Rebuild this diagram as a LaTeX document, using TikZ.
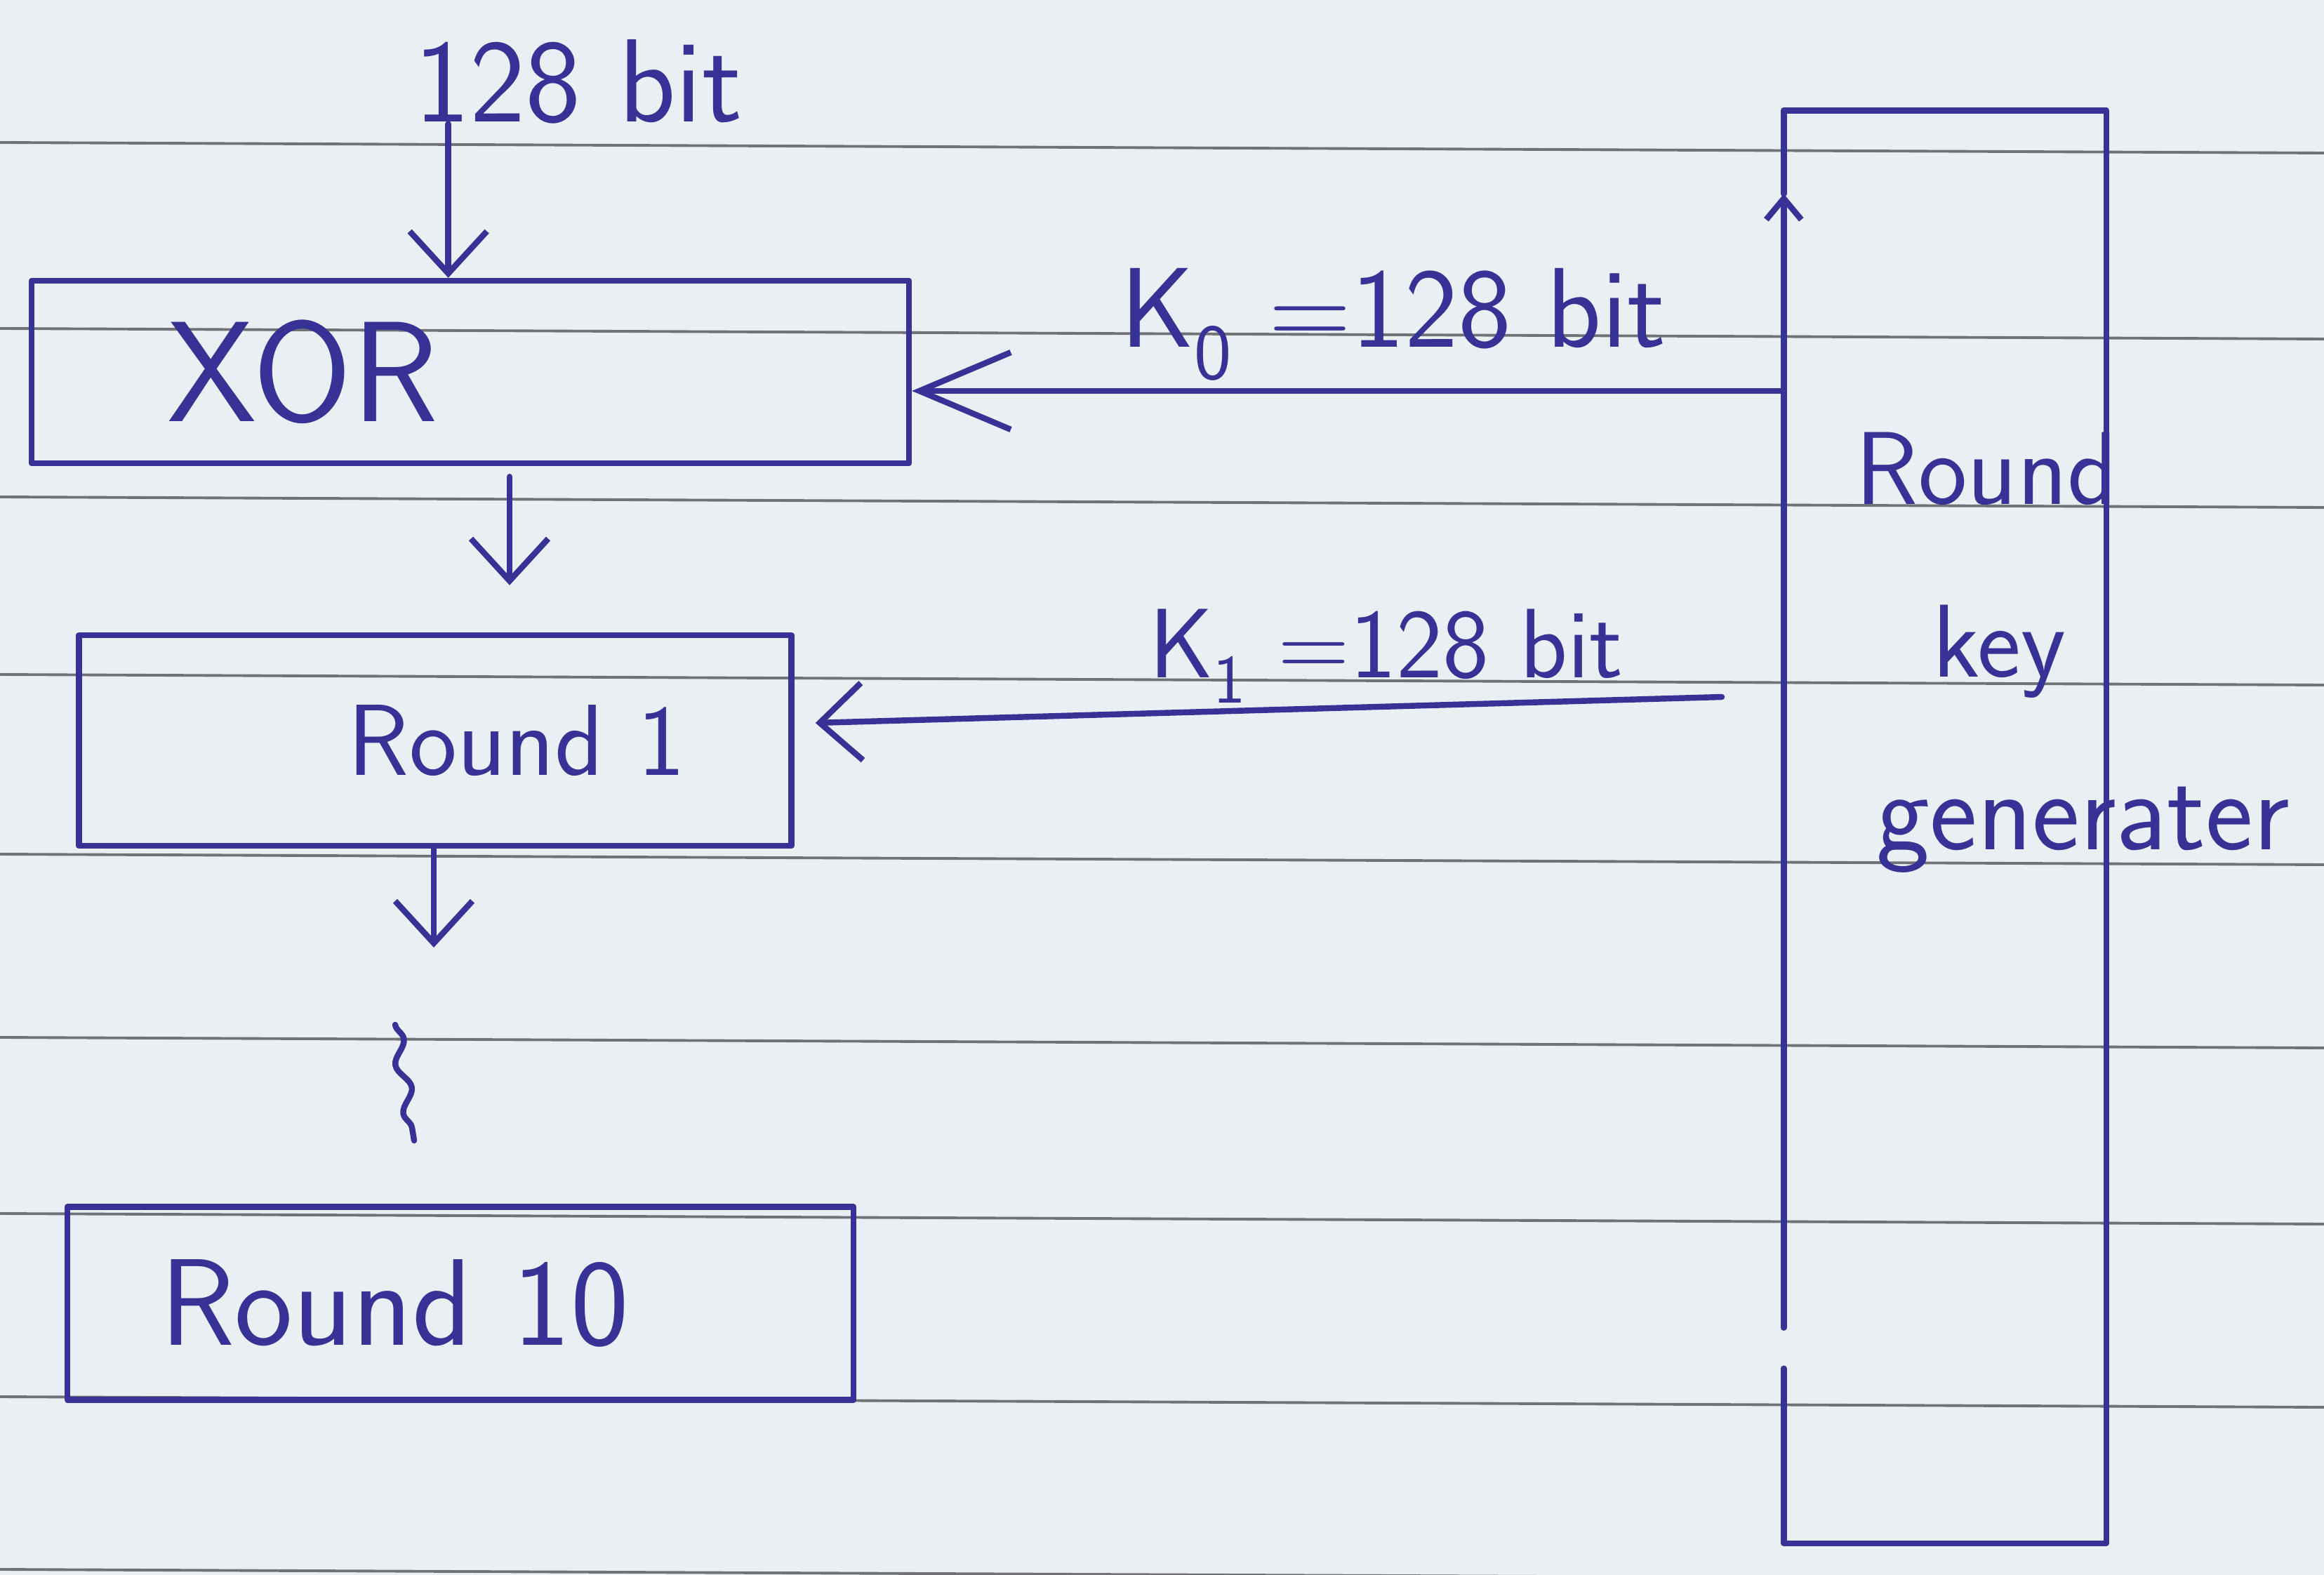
\documentclass[tikz,border=0pt]{standalone}
\usepackage{fontspec}
\usetikzlibrary{positioning,arrows.meta,decorations.pathmorphing}
\definecolor{ink}{RGB}{55,50,150}
\definecolor{paper}{RGB}{234,239,243}
\definecolor{ruling}{RGB}{112,114,118}
\tikzset{
 pen/.style={draw=ink, line width=2.4pt, line cap=round, line join=round},
 flow/.style={pen, -{Straight Barb[length=6mm,width=11mm]}},
 bigflow/.style={pen, -{Straight Barb[length=13mm,width=11mm]}},
 stage/.style={pen, inner sep=0pt, text=ink},
 hand/.style={inner sep=0pt, text=ink},
}

\begin{document}
\begin{tikzpicture}
 % ruled sheet
 \fill[paper] (0,0) rectangle (33.11,-22.44);
 \useasboundingbox (0,0) rectangle (33.11,-22.44);
 \foreach \y in {2.03,4.68,7.08,9.61,12.17,14.78,17.29,19.90,22.36}
  \draw[draw=ruling, line width=1.1pt] (0,-\y) -- (33.11,{-\y-0.15});

 % the rounds
 \node[stage, minimum width=12.5cm, minimum height=2.6cm, text width=8.64cm, align=left,
  font=\sffamily\fontsize{58}{60}\selectfont] (xor) at (6.70,-5.30) {XOR};
 \node[stage, minimum width=10.15cm, minimum height=3.0cm, text width=7.12cm, align=right,
  font=\sffamily\fontsize{41}{44}\selectfont] (round1) at (6.20,-10.55) {Round 1};
 \node[stage, minimum width=11.2cm, minimum height=2.75cm, text width=8.56cm, align=left,
  font=\sffamily\fontsize{50}{54}\selectfont] (round10) at (6.56,-18.57) {Round 10};

 % key schedule
 \node[minimum width=4.58cm, minimum height=20.4cm, inner sep=0pt] (keygen) at (27.71,-11.78) {};
 \node[hand, anchor=north west, align=left, font=\sffamily\fontsize{42}{70}\selectfont]
  (keytext) at (26.43,-6.15) {Round\\\hspace*{1.1cm}key\\\hspace*{0.3cm}{\fontsize{46}{70}\selectfont generater}};
 \draw[pen] ([yshift=-1.19cm]keygen.north west) -- (keygen.north west) -- (keygen.north east)
  -- (keygen.south east) -- (keygen.south west) -- ([yshift=2.49cm]keygen.south west);
 \draw[pen, -{Straight Barb[length=3mm,width=5mm]}] ([yshift=3.07cm]keygen.south west)
  -- ([yshift=-1.19cm]keygen.north west);

 % labels
 \node[hand, font=\sffamily\fontsize{48}{50}\selectfont] (bits) at (8.24,-1.16) {128 bit};
 \node[hand, font=\sffamily\fontsize{46}{48}\selectfont] (k0lab) at (19.85,-4.62) {K\textsubscript{0} =128 bit};
 \node[hand, font=\sffamily\fontsize{40}{42}\selectfont] (k1lab) at (19.75,-9.35) {K\textsubscript{1} =128 bit};

 \coordinate (k0) at (0,-5.57);
 \coordinate (k1) at (24.53,-9.93);
 \coordinate (more) at (6.18,-13.50);
 \coordinate (skipA) at (5.63,-14.60);
 \coordinate (skipB) at (5.90,-16.25);

 % data path
 \draw[flow] ([xshift=4.9mm]bits.south west) -- ([xshift=4.9mm]bits.south west |- xor.north);
 \draw[flow, shorten <=1.5mm, shorten >=6.7mm] ([xshift=5.6mm]xor.south) -- ([xshift=5.6mm]xor.south |- round1.north);
 \draw[flow] (round1.south -| more) -- (more);
 \draw[pen, decorate, decoration={snake, amplitude=0.9mm, segment length=7mm}] (skipA) -- (skipB);

 % round keys
 \draw[bigflow] (keygen.west |- k0) -- (xor.east |- k0);
 \draw[flow] (k1) -- ([xshift=3mm, yshift=2.5mm]round1.east);
\end{tikzpicture}
\end{document}
